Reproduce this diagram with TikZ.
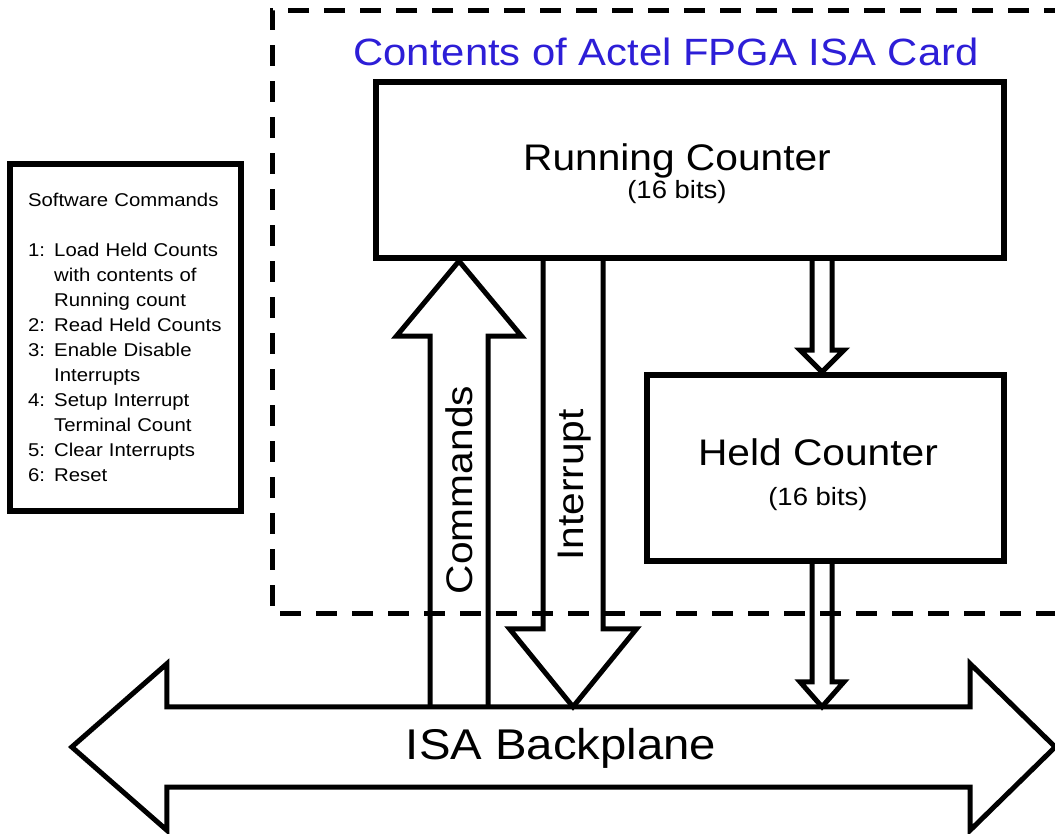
\documentclass[tikz,border=0pt]{standalone}
\usepackage{fontspec}
\setmainfont{Liberation Sans}[FakeStretch=1.1]
\usetikzlibrary{calc, positioning}
\definecolor{cardblue}{RGB}{45,30,215}
\tikzset{
  cbox/.style={rectangle, draw, line width=6pt, inner sep=0pt},
  bigtxt/.style={font=\fontsize{37}{44}\selectfont, inner sep=0pt},
  bitstxt/.style={font=\fontsize{25}{30}\selectfont, inner sep=0pt},
  titletxt/.style={font=\fontsize{38}{46}\selectfont, text=cardblue, inner sep=0pt},
  bptxt/.style={font=\fontsize{43}{50}\selectfont, inner sep=0pt},
  fatline/.style={line width=5pt, line join=miter},
  cardline/.style={line width=5pt, dash pattern=on 21pt off 15pt},
  swbox/.style={rectangle, draw, line width=6pt, text width=195pt,
                inner xsep=18pt, inner ysep=0pt, minimum height=347pt,
                align=left, font=\fontsize{18.5}{25}\selectfont},
}
% block arrow: tail, tip, half shaft, half head, head length
\newcommand\fatarrow[5]{%
  \draw[fatline] let \p1=(#1), \p2=(#2), \p3=($(#2)!#5!(#1)$) in
    (\x1-#3,\y1) -- (\x1-#3,\y3) -- (\x1-#4,\y3) -- (\x2,\y2)
    -- (\x1+#4,\y3) -- (\x1+#3,\y3) -- (\x1+#3,\y1);
}
\begin{document}
\begin{tikzpicture}[x=1pt, y=-1pt]

  \useasboundingbox (0,0) rectangle (1055,833);

  \draw[cardline] (1065,10) -- (272,10) -- (272,613) -- (1065,613);

  \node[titletxt, anchor=base] (title) at (666,65) {Contents of Actel FPGA ISA Card};

  \node[cbox, minimum width=628pt, minimum height=176pt] (run) at (690,170) {};
  \node[bigtxt, anchor=base] (runname) at (677,170) {Running Counter};
  \node[bitstxt, anchor=base] (runbits) at ([yshift=-28pt]runname.base) {(16 bits)};

  \node[cbox, minimum width=357pt, minimum height=186pt] (held) at (825.5,468) {};
  \node[bigtxt, anchor=base] (heldname) at (818,465) {Held Counter};
  \node[bitstxt, anchor=base] (heldbits) at ([yshift=-40pt]heldname.base) {(16 bits)};

  \node[swbox] (sw) at (125.5,337) {Software Commands\\[25pt]
    1: Load Held Counts\\
    \phantom{1: }with contents of\\
    \phantom{1: }Running count\\
    2: Read Held Counts\\
    3: Enable Disable\\
    \phantom{3: }Interrupts\\
    4: Setup Interrupt\\
    \phantom{4: }Terminal Count\\
    5: Clear Interrupts\\
    6: Reset};

  \node[minimum width=803pt, minimum height=80pt, inner sep=0pt] (isa) at (568.5,747) {};
  \node[bptxt] (isaname) at (561,748) {ISA Backplane};
  \draw[fatline] (isa.north west) -- ([yshift=43pt]isa.north west)
    -- ([xshift=-95pt]isa.west) -- ([yshift=-43pt]isa.south west)
    -- (isa.south west) -- (isa.south east) -- ([yshift=-43pt]isa.south east)
    -- ([xshift=85pt]isa.east) -- ([yshift=43pt]isa.north east)
    -- (isa.north east) -- cycle;

  \coordinate (cmdcol) at (459,0);
  \coordinate (intcol) at (573,0);
  \coordinate (holdcol) at (822,0);

  \fatarrow{cmdcol |- isa.north}{cmdcol |- run.south}{29pt}{62.5pt}{75pt}
  \fatarrow{intcol |- run.south}{intcol |- isa.north}{30pt}{63.5pt}{78pt}
  \fatarrow{holdcol |- run.south}{holdcol |- held.north}{10pt}{22pt}{22pt}
  \fatarrow{holdcol |- held.south}{holdcol |- isa.north}{10pt}{22pt}{25pt}

  \node[bigtxt, anchor=base, rotate=90] (cmdlbl) at (472,490) {Commands};
  \node[bigtxt, anchor=base, rotate=90] (intlbl) at (583,485) {Interrupt};

\end{tikzpicture}
\end{document}
